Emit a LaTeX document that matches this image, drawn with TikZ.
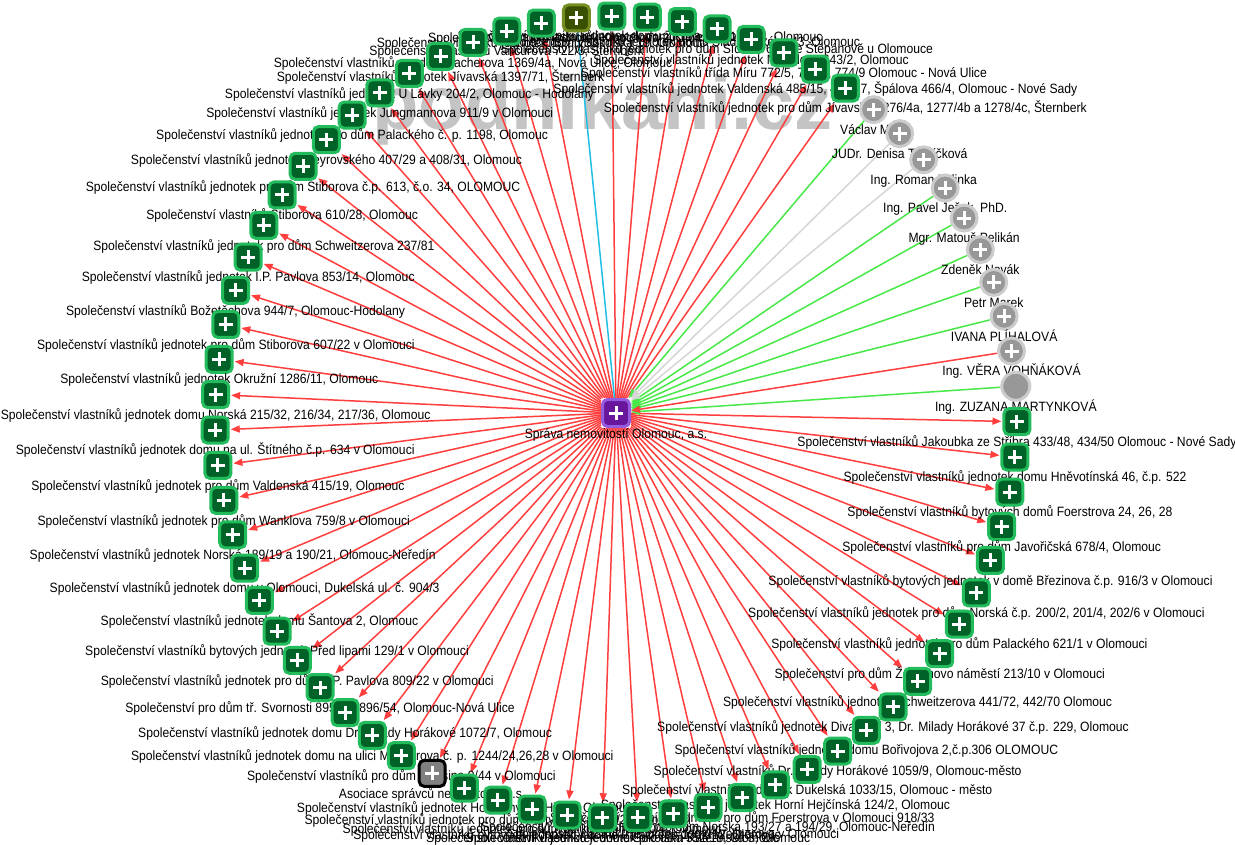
\documentclass[tikz,border=0pt]{standalone}
\usepackage{fontspec}
\setmainfont{Liberation Sans}
\newfontfamily\lblfont{Liberation Sans}[FakeStretch=0.9]
\newfontfamily\wmfont{Liberation Sans}
\usetikzlibrary{arrows.meta}
\pgfdeclarelayer{wm}
\pgfdeclarelayer{edges}
\pgfsetlayers{wm,edges,main}
\definecolor{gfill}{RGB}{0,98,38}
\definecolor{gborder}{RGB}{34,188,92}
\definecolor{pfill}{RGB}{152,152,152}
\definecolor{pborder}{RGB}{204,204,204}
\definecolor{ofill}{RGB}{58,80,0}
\definecolor{oborder}{RGB}{116,142,34}
\definecolor{cfill}{RGB}{104,22,156}
\definecolor{cborder}{RGB}{150,92,224}
\definecolor{afill}{RGB}{128,128,128}
\definecolor{ered}{RGB}{255,62,62}
\definecolor{egreen}{RGB}{72,232,72}
\definecolor{egray}{RGB}{214,214,214}
\definecolor{ecyan}{RGB}{34,190,230}
\definecolor{wmgray}{RGB}{196,196,196}
\begin{document}
\begin{tikzpicture}[x=1pt,y=-1pt,
  label distance=0.5pt,
  lbl/.style={font={\lblfont\fontsize{13.5}{15}\selectfont}, inner sep=0pt, text height=9.5pt, text depth=3pt},
  plus/.style={path picture={\draw[white,line width=3pt]
      ([xshift=-7pt]path picture bounding box.center) -- ([xshift=7pt]path picture bounding box.center)
      ([yshift=-7pt]path picture bounding box.center) -- ([yshift=7pt]path picture bounding box.center);}},
  boxbase/.style={rectangle, rounded corners=5pt, minimum size=26pt, inner sep=0pt, line width=3pt, plus},
  svj/.style={boxbase, fill=gfill, draw=gborder},
  olive/.style={boxbase, fill=ofill, draw=oborder},
  assoc/.style={boxbase, fill=afill, draw=black},
  hub/.style={rectangle, rounded corners=5pt, minimum size=27pt, inner sep=0pt, line width=3pt, fill=cfill, draw=cborder, plus},
  person/.style={circle, minimum size=26pt, inner sep=0pt, line width=3pt, fill=pfill, draw=pborder, plus},
  personplain/.style={circle, minimum size=28pt, inner sep=0pt, line width=3pt, fill=pfill, draw=pborder},
  tip/.style={-{Triangle[length=9pt,width=7pt]}},
  redge/.style={draw=ered, line width=1.5pt, tip, shorten >=1pt},
  gedge/.style={draw=egreen, line width=1.5pt, tip},
  grayedge/.style={draw=egray, line width=1.5pt, tip},
  cyedge/.style={draw=ecyan, line width=1.5pt},
]
\useasboundingbox (0,0) rectangle (1235,845);
\begin{pgfonlayer}{wm}
\fill[white] (0,0) rectangle (1235,845);
\node[font={\wmfont\bfseries\fontsize{76}{76}\selectfont}, text=wmgray, anchor=base west, inner sep=0pt] (wm) at (372,130) {podnikani.cz};
\end{pgfonlayer}
\begin{scope}[shift={(616,417)}]
\foreach \k in {0,...,70} \coordinate (p\k) at ({-4.4+5.0704*\k}:401);
\end{scope}
% ring nodes, drawn from top to bottom
\node[svj,label={[lbl]below:{Společenství vlastníků jednotek domu Zikova 4, Olomouc}}] (n54) at (p54) {};
\node[svj,label={[lbl]below:{Společenství vlastníků jednotek domu Tererova 1062/4, Olomouc}}] (n55) at (p55) {};
\node[olive,label={[lbl]below:{Společenství vlastníků jednotek Kmochova 2, Olomouc}}] (n53) at (p53) {};
\node[svj,label={[lbl]below:{Společenství vlastníků jednotek domu Sladkovského 43, Olomouc}}] (n56) at (p56) {};
\node[svj,label={[lbl]below:{Společenství vlastníků jednotek domu Sokolská 19, Olomouc}}] (n52) at (p52) {};
\node[svj,label={[lbl]below:{Společenství vlastníků jednotek pro dům Sídliště 600 ve Štěpánově u Olomouce}}] (n57) at (p57) {};
\node[svj,label={[lbl]below:{Společenství vlastníků Vančurova 722/3, Šternberk}}] (n51) at (p51) {};
\node[svj,label={[lbl]below:{Společenství vlastníků jednotek Nerudova 643/2, Olomouc}}] (n58) at (p58) {};
\node[svj,label={[lbl]below:{Společenství vlastníků pro dům Bacherova 1369/4a, Nová Ulice, Olomouc}}] (n50) at (p50) {};
\node[svj,label={[lbl]below:{Společenství vlastníků třída Míru 772/5, 773/7, 774/9 Olomouc - Nová Ulice}}] (n59) at (p59) {};
\node[svj,label={[lbl]below:{Společenství vlastníků jednotek Jívavská 1397/71, Šternberk}}] (n49) at (p49) {};
\node[svj,label={[lbl]below:{Společenství vlastníků jednotek Valdenská 485/15, 487/17, Špálova 466/4, Olomouc - Nové Sady}}] (n60) at (p60) {};
\node[svj,label={[lbl]below:{Společenství vlastníků jednotek U Lávky 204/2, Olomouc - Hodolany}}] (n48) at (p48) {};
\node[svj,label={[lbl]below:{Společenství vlastníků jednotek pro dům Jívavská 1276/4a, 1277/4b a 1278/4c, Šternberk}}] (n61) at (p61) {};
\node[svj,label={[lbl]below:{Společenství vlastníků jednotek Jungmannova 911/9 v Olomouci}}] (n47) at (p47) {};
\node[person,label={[lbl]below:{Václav Mráz}}] (n62) at (p62) {};
\node[svj,label={[lbl]below:{Společenství vlastníků jednotek pro dům Palackého č. p. 1198, Olomouc}}] (n46) at (p46) {};
\node[person,label={[lbl]below:{JUDr. Denisa Tvrdíčková}}] (n63) at (p63) {};
\node[svj,label={[lbl]below:{Společenství vlastníků jednotek Heyrovského 407/29 a 408/31, Olomouc}}] (n45) at (p45) {};
\node[person,label={[lbl]below:{Ing. Roman Zelinka}}] (n64) at (p64) {};
\node[svj,label={[lbl]below:{Společenství vlastníků jednotek pro dům Stiborova č.p. 613, č.o. 34, OLOMOUC}}] (n44) at (p44) {};
\node[person,label={[lbl]below:{Ing. Pavel Ježek, PhD.}}] (n65) at (p65) {};
\node[svj,label={[lbl]below:{Společenství vlastníků Stiborova 610/28, Olomouc}}] (n43) at (p43) {};
\node[person,label={[lbl]below:{Mgr. Matouš Pelikán}}] (n66) at (p66) {};
\node[svj,label={[lbl]below:{Společenství vlastníků jednotek pro dům Schweitzerova 237/81}}] (n42) at (p42) {};
\node[person,label={[lbl]below:{Zdeněk Novák}}] (n67) at (p67) {};
\node[svj,label={[lbl]below:{Společenství vlastníků jednotek I.P. Pavlova 853/14, Olomouc}}] (n41) at (p41) {};
\node[person,label={[lbl]below:{Petr Marek}}] (n68) at (p68) {};
\node[svj,label={[lbl]below:{Společenství vlastníků Božetěchova 944/7, Olomouc-Hodolany}}] (n40) at (p40) {};
\node[person,label={[lbl]below:{IVANA PLÍHALOVÁ}}] (n69) at (p69) {};
\node[svj,label={[lbl]below:{Společenství vlastníků jednotek pro dům Stiborova 607/22 v Olomouci}}] (n39) at (p39) {};
\node[person,label={[lbl]below:{Ing. VĚRA VOHŇÁKOVÁ}}] (n70) at (p70) {};
\node[svj,label={[lbl]below:{Společenství vlastníků jednotek Okružní 1286/11, Olomouc}}] (n38) at (p38) {};
\node[personplain,label={[lbl]below:{Ing. ZUZANA MARTYNKOVÁ}}] (n0) at (p0) {};
\node[svj,label={[lbl]below:{Společenství vlastníků jednotek domu Norská 215/32, 216/34, 217/36, Olomouc}}] (n37) at (p37) {};
\node[svj,label={[lbl]below:{Společenství vlastníků Jakoubka ze Stříbra 433/48, 434/50 Olomouc - Nové Sady}}] (n1) at (p1) {};
\node[svj,label={[lbl]below:{Společenství vlastníků jednotek domu na ul. Štítného č.p. 634 v Olomouci}}] (n36) at (p36) {};
\node[svj,label={[lbl]below:{Společenství vlastníků jednotek domu Hněvotínská 46, č.p. 522}}] (n2) at (p2) {};
\node[svj,label={[lbl]below:{Společenství vlastníků jednotek pro dům Valdenská 415/19, Olomouc}}] (n35) at (p35) {};
\node[svj,label={[lbl]below:{Společenství vlastníků bytových domů Foerstrova 24, 26, 28}}] (n3) at (p3) {};
\node[svj,label={[lbl]below:{Společenství vlastníků jednotek pro dům Wanklova 759/8 v Olomouci}}] (n34) at (p34) {};
\node[svj,label={[lbl]below:{Společenství vlastníků pro dům Javořičská 678/4, Olomouc}}] (n4) at (p4) {};
\node[svj,label={[lbl]below:{Společenství vlastníků jednotek Norská 189/19 a 190/21, Olomouc-Neředín}}] (n33) at (p33) {};
\node[svj,label={[lbl]below:{Společenství vlastníků bytových jednotek v domě Březinova č.p. 916/3 v Olomouci}}] (n5) at (p5) {};
\node[svj,label={[lbl]below:{Společenství vlastníků jednotek domu v Olomouci, Dukelská ul. č. 904/3}}] (n32) at (p32) {};
\node[svj,label={[lbl]below:{Společenství vlastníků jednotek pro dům Norská č.p. 200/2, 201/4, 202/6 v Olomouci}}] (n6) at (p6) {};
\node[svj,label={[lbl]below:{Společenství vlastníků jednotek domu Šantova 2, Olomouc}}] (n31) at (p31) {};
\node[svj,label={[lbl]below:{Společenství vlastníků jednotek pro dům Palackého 621/1 v Olomouci}}] (n7) at (p7) {};
\node[svj,label={[lbl]below:{Společenství vlastníků bytových jednotek Před lipami 129/1 v Olomouci}}] (n30) at (p30) {};
\node[svj,label={[lbl]below:{Společenství pro dům Žerotínovo náměstí 213/10 v Olomouci}}] (n8) at (p8) {};
\node[svj,label={[lbl]below:{Společenství vlastníků jednotek pro dům I. P. Pavlova 809/22 v Olomouci}}] (n29) at (p29) {};
\node[svj,label={[lbl]below:{Společenství vlastníků jednotek Schweitzerova 441/72, 442/70 Olomouc}}] (n9) at (p9) {};
\node[svj,label={[lbl]below:{Společenství pro dům tř. Svornosti 895/52, 896/54, Olomouc-Nová Ulice}}] (n28) at (p28) {};
\node[svj,label={[lbl]below:{Společenství vlastníků jednotek Divadelní 3, Dr. Milady Horákové 37 č.p. 229, Olomouc}}] (n10) at (p10) {};
\node[svj,label={[lbl]below:{Společenství vlastníků jednotek domu Dr. Milady Horákové 1072/7, Olomouc}}] (n27) at (p27) {};
\node[svj,label={[lbl]below:{Společenství vlastníků jednotek domu Bořivojova 2,č.p.306 OLOMOUC}}] (n11) at (p11) {};
\node[svj,label={[lbl]below:{Společenství vlastníků jednotek domu na ulici Mošnerova č. p. 1244/24,26,28 v Olomouci}}] (n26) at (p26) {};
\node[svj,label={[lbl]below:{Společenství vlastníků Dr. Milady Horákové 1059/9, Olomouc-město}}] (n12) at (p12) {};
\node[svj,label={[lbl]below:{Společenství vlastníků pro dům Libušina 9/44 v Olomouci}}] (n25) at (p25) {};
\node[svj,label={[lbl]below:{Společenství vlastníků jednotek Dukelská 1033/15, Olomouc - město}}] (n13) at (p13) {};
\node[assoc,label={[lbl]below:{Asociace správců nemovitostí, z.s.}}] (n24) at (p24) {};
\node[svj,label={[lbl]below:{Společenství vlastníků jednotek Horní Hejčínská 124/2, Olomouc}}] (n14) at (p14) {};
\node[svj,label={[lbl]below:{Společenství vlastníků jednotek Hodolany - U Hřiště, Olomouc}}] (n23) at (p23) {};
\node[svj,label={[lbl]below:{Společenství vlastníků jednotek pro dům Foerstrova v Olomouci 918/33}}] (n15) at (p15) {};
\node[svj,label={[lbl]below:{Společenství vlastníků jednotek pro dům Partyzánská 450/2 v Olomouci}}] (n22) at (p22) {};
\node[svj,label={[lbl]below:{Společenství vlastníků jednotek pro dům Norská 193/27 a 194/29, Olomouc-Neředín}}] (n16) at (p16) {};
\node[svj,label={[lbl]below:{Společenství vlastníků jednotek pro dům Jarkovského 940/4, Olomouc}}] (n21) at (p21) {};
\node[svj,label={[lbl]below:{Společenství vlastníků jednotek domu Wellnerova v Olomouci}}] (n17) at (p17) {};
\node[svj,label={[lbl]below:{Společenství vlastníků bytových jednotek v domě Palackého 1302/12, Olomouc}}] (n20) at (p20) {};
\node[svj,label={[lbl]below:{Společenství vlastníků jednotek pro dům Kateřinská 3, Olomouc}}] (n18) at (p18) {};
\node[svj,label={[lbl]below:{Společenství vlastníků jednotek domu Sokolská 552/18, Olomouc}}] (n19) at (p19) {};
% hub
\node[hub,label={[lbl]below:{Správa nemovitostí Olomouc, a.s.}}] (c) at (616,413) {};
% connectors
\begin{pgfonlayer}{edges}
\foreach \k in {1,...,52,54,55,...,61} \draw[redge] (c) -- (n\k);
\draw[cyedge] (n53) -- (c);
\foreach \k in {0,62,65,66,67,68,69} \draw[gedge] (n\k) -- (c);
\foreach \k in {63,64} \draw[grayedge] (n\k) -- (c);
\draw[redge,shorten >=0pt] (n70) -- (c);
\end{pgfonlayer}
\end{tikzpicture}
\end{document}
